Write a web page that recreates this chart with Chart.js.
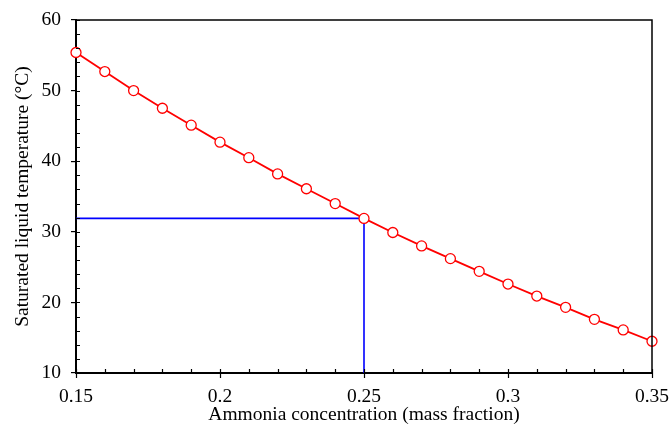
<!DOCTYPE html>
<html>
<head>
<meta charset="utf-8">
<script src="https://cdn.jsdelivr.net/npm/chart.js@4.4.1/dist/chart.umd.min.js"></script>
<style>
  html, body { margin: 0; padding: 0; background: #fff; }
  #wrap { width: 671px; height: 425px; }
</style>
</head>
<body>
<div id="wrap"><canvas id="myChart" width="671" height="425"></canvas></div>
<script>
// ammonia mass fraction vs saturated liquid temperature
const concentration = [0.15, 0.16, 0.17, 0.18, 0.19, 0.20, 0.21, 0.22, 0.23, 0.24, 0.25,
                       0.26, 0.27, 0.28, 0.29, 0.30, 0.31, 0.32, 0.33, 0.34, 0.35]
const temperature = [55.4, 52.7, 50.0, 47.5, 45.1, 42.7, 40.5, 38.2, 36.1, 34.0, 31.9,
                     29.9, 28.0, 26.2, 24.4, 22.6, 20.9, 19.3, 17.6, 16.1, 14.5]
// blue guide line: read-off at 0.25 -> 31.9 C
const guideX = [0.15, 0.25, 0.25]
const guideY = [31.9, 31.9, 10]
const xTicks = [0.15, 0.2, 0.25, 0.3, 0.35]
const xTickLabels = ['0.15', '0.2', '0.25', '0.3', '0.35']
const yTicks = [10, 20, 30, 40, 50, 60]

const FONT = "'Liberation Serif', 'Times New Roman', serif"
const FSIZE = 19.5

// frame on top/right + small ticks like the original plot
const framePlugin = {
    id: 'frame',
    afterDraw(chart){
        const ctx = chart.ctx
        const a = chart.chartArea
        const xs = chart.scales.x
        const ys = chart.scales.y
        ctx.save()
        ctx.strokeStyle = '#000'
        ctx.lineWidth = 1.5
        ctx.beginPath()
        ctx.moveTo(a.left, a.top)
        ctx.lineTo(a.right, a.top)
        ctx.lineTo(a.right, a.bottom)
        ctx.stroke()

        ctx.lineWidth = 1.2
        ctx.beginPath()
        // x ticks every 0.01 inside, majors also poke out below
        for(let i = 15; i <= 35; i++){
            const px = Math.round(xs.getPixelForValue(i / 100)) + 0.5
            const major = i % 5 === 0
            ctx.moveTo(px, a.bottom + (major ? 5 : 0))
            ctx.lineTo(px, a.bottom - 4)
        }
        // y ticks inside, every 2
        for(let v = 10; v <= 60; v += 2){
            const py = Math.round(ys.getPixelForValue(v)) + 0.5
            ctx.moveTo(a.left, py)
            ctx.lineTo(a.left + 4, py)
        }
        ctx.stroke()
        ctx.restore()
    }
}

// keep the label overhang out of the layout so the plot box stays put
function noOverhang(scale){
    scale.paddingLeft = 0
    scale.paddingRight = 0
    scale.paddingTop = 0
    scale.paddingBottom = 0
}

function displayChart(){
    const ctx = document.getElementById('myChart')
    new Chart(ctx, {
        type: 'scatter',
        data: {
            datasets: [{
                label: 'Saturated liquid temperature',
                data: concentration.map((c, i) => ({x: c, y: temperature[i]})),
                showLine: true,
                clip: false,
                borderColor: '#ff0000',
                borderWidth: 1.8,
                pointRadius: 5,
                pointBorderWidth: 1.3,
                pointBackgroundColor: '#ffffff',
                pointBorderColor: '#ff0000'
            }, {
                label: 'guide',
                data: guideX.map((c, i) => ({x: c, y: guideY[i]})),
                showLine: true,
                borderColor: '#0000ff',
                borderWidth: 1.6,
                pointRadius: 0
            }]
        },
        options: {
            responsive: false,
            animation: false,
            layout: { padding: { left: 11, right: 19, top: 20, bottom: 0 } },
            plugins: {
                legend: { display: false },
                tooltip: { enabled: false }
            },
            scales: {
                x: {
                    type: 'linear',
                    min: 0.15,
                    max: 0.35,
                    afterBuildTicks: scale => { scale.ticks = xTicks.map(v => ({value: v})) },
                    afterFit: scale => { scale.height = 52; noOverhang(scale) },
                    ticks: {
                        autoSkip: false,
                        maxRotation: 0,
                        padding: 12,
                        color: '#000',
                        font: { family: FONT, size: FSIZE },
                        callback: (v, i) => xTickLabels[i]
                    },
                    grid: { display: false, drawTicks: false },
                    border: { display: true, color: '#000', width: 2 },
                    title: {
                        display: true,
                        text: 'Ammonia concentration (mass fraction)',
                        color: '#000',
                        font: { family: FONT, size: FSIZE },
                        padding: { top: 0, bottom: -2 }
                    }
                },
                y: {
                    min: 10,
                    max: 60,
                    afterBuildTicks: scale => { scale.ticks = yTicks.map(v => ({value: v})) },
                    afterFit: scale => { scale.width = 65; noOverhang(scale) },
                    ticks: {
                        padding: 10,
                        color: '#000',
                        font: { family: FONT, size: FSIZE }
                    },
                    grid: {
                        drawOnChartArea: false,
                        drawTicks: true,
                        tickLength: 5,
                        color: '#000',
                        lineWidth: 1.2
                    },
                    border: { display: true, color: '#000', width: 2 },
                    title: {
                        display: true,
                        text: 'Saturated liquid temperature (°C)',
                        color: '#000',
                        font: { family: FONT, size: FSIZE },
                        padding: { top: 0, bottom: 0 }
                    }
                }
            }
        },
        plugins: [framePlugin]
    })
}

displayChart()
</script>
</body>
</html>
